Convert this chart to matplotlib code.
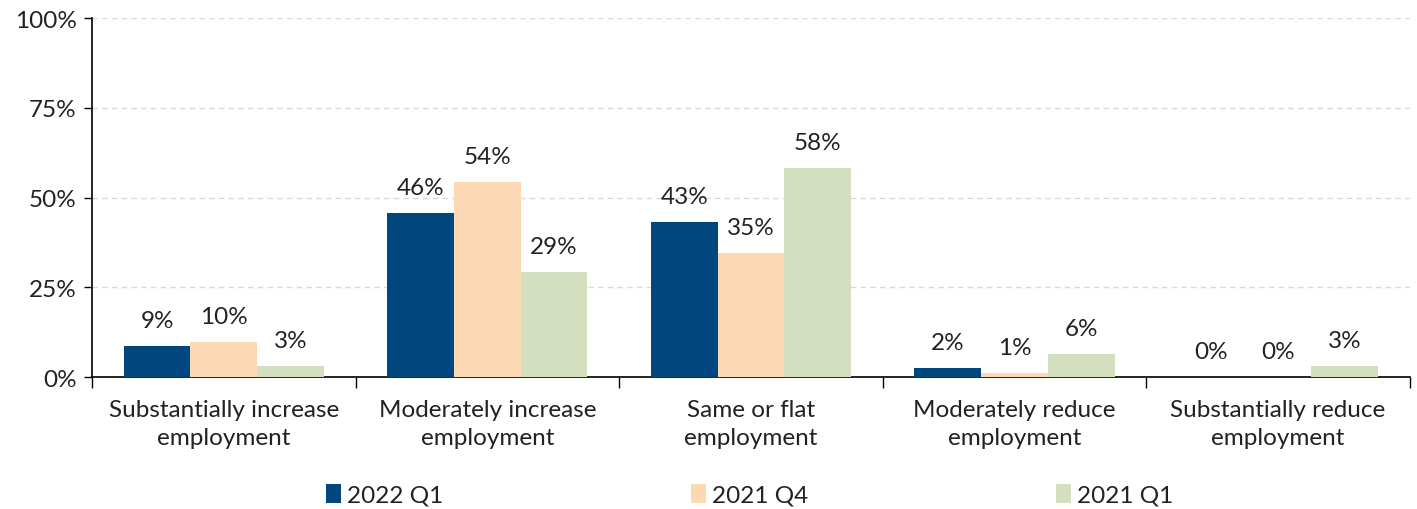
import matplotlib
matplotlib.use("Agg")
import matplotlib.pyplot as plt
from matplotlib.patches import Patch
from matplotlib.ticker import FixedLocator, PercentFormatter
import numpy as np

plt.rcParams['font.family'] = ['Lato', 'DejaVu Sans']

categories = [
    "Substantially increase\nemployment",
    "Moderately increase\nemployment",
    "Same or flat\nemployment",
    "Moderately reduce\nemployment",
    "Substantially reduce\nemployment",
]
series_names = ["2022 Q1", "2021 Q4", "2021 Q1"]
q1_2022 = [8.6, 45.7, 43.2, 2.5, 0.0]
q4_2021 = [9.7, 54.3, 34.6, 1.1, 0.0]
q1_2021 = [3.1, 29.2, 58.2, 6.4, 3.1]
colors = ["#00477f", "#fdd9b3", "#d4dfc0"]

fig = plt.figure(figsize=(14.17, 5.10), dpi=100)
ax = fig.add_axes([0.0649, 0.2588, 0.9301, 0.7039])

x = np.arange(len(categories))
width = 0.253
text_color = "#222222"
fs = 17.5
for i, (vals, name, c) in enumerate(zip([q1_2022, q4_2021, q1_2021], series_names, colors)):
    bars = ax.bar(x + (i - 1) * width, vals, width, color=c, label=name, zorder=3)
    ax.bar_label(bars, labels=[f"{v:.0f}%" for v in vals], padding=11,
                 fontsize=fs, color=text_color)

ax.set_xlim(-0.5, len(categories) - 0.5)
ax.set_ylim(0, 100)
ax.yaxis.set_major_locator(FixedLocator([0, 25, 50, 75, 100]))
ax.yaxis.set_major_formatter(PercentFormatter(decimals=0))
ax.grid(axis="y", color="#d9d9d9", linestyle=(0, (4, 3)), linewidth=1, zorder=0)

ax.set_xticks(x)
ax.set_xticklabels(categories, fontsize=fs, color=text_color, linespacing=1.38)
ax.set_xticks(np.arange(-0.5, len(categories)), minor=True)
ax.tick_params(axis="x", which="major", length=0, pad=16)
ax.tick_params(axis="x", which="minor", length=8, width=1, color="black", direction="out")
ax.tick_params(axis="y", labelsize=fs, labelcolor=text_color, length=6, width=1, pad=5)

for side in ("top", "right"):
    ax.spines[side].set_visible(False)
for side in ("left", "bottom"):
    ax.spines[side].set_color("black")
    ax.spines[side].set_linewidth(1.2)

handles = [Patch(facecolor=c, edgecolor="none") for c in colors]
fig.legend(handles, series_names, loc="lower center", bbox_to_anchor=(0.529, -0.037),
           ncol=3, frameon=False, fontsize=fs, handlelength=0.6, handleheight=0.8,
           handletextpad=0.25, columnspacing=10.2, labelcolor=text_color)

fig.savefig("out.png", dpi=100)
